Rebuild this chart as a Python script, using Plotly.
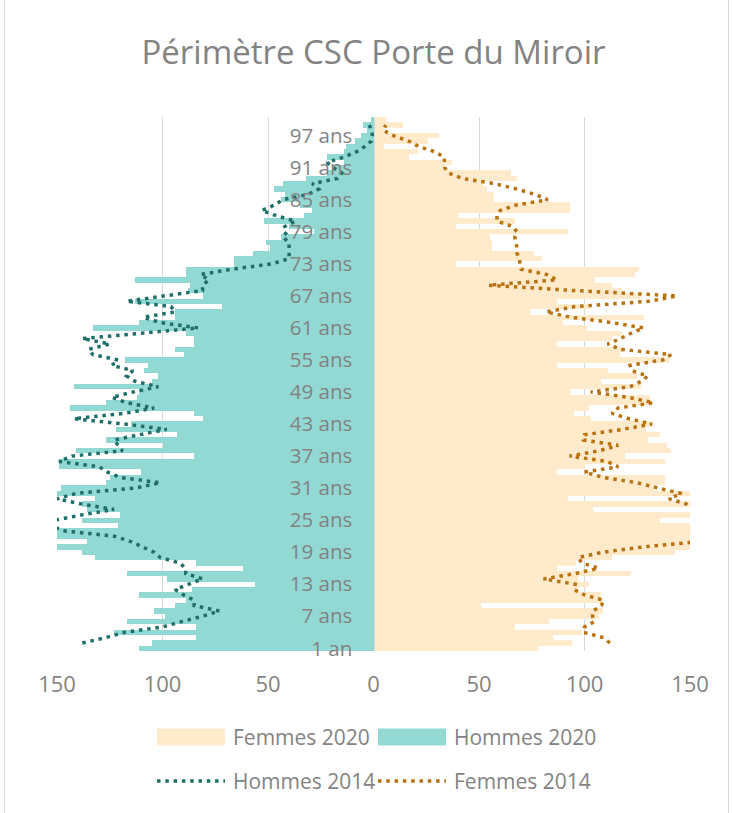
import plotly.graph_objects as go

# ---------------- data ----------------
ages = list(range(1, 101))
hommes_2020 = [111, 105, 84, 123, 84, 117, 99, 104, 94, 89,
               111, 86, 56, 98, 117, 62, 84, 132, 138, 150,
               136, 150, 150, 121, 138, 120, 136, 138, 132, 150,
               148, 127, 125, 110, 149, 149, 85, 141, 100, 127,
               93, 122, 115, 81, 85, 144, 127, 112, 111, 142,
               105, 102, 109, 107, 118, 90, 94, 85, 85, 89,
               133, 111, 94, 94, 72, 113, 81, 88, 87, 113,
               89, 89, 66, 66, 57, 49, 51, 44, 28, 40,
               52, 33, 29, 35, 44, 42, 47, 43, 32, 22,
               19, 14, 22, 14, 13, 9, 6, 3, 5, 1]
femmes_2020 = [78, 94, 85, 99, 67, 83, 107, 109, 51, 109,
               108, 97, 102, 97, 122, 87, 96, 113, 143, 150,
               150, 150, 150, 150, 136, 150, 104, 150, 92, 150,
               133, 138, 138, 87, 100, 138, 119, 141, 139, 130,
               136, 129, 131, 103, 95, 102, 131, 131, 93, 127,
               108, 125, 111, 87, 140, 117, 118, 87, 113, 118,
               101, 90, 128, 74, 103, 87, 127, 118, 113, 105,
               124, 126, 39, 80, 76, 56, 56, 55, 92, 39,
               67, 40, 93, 93, 57, 57, 54, 52, 68, 65,
               34, 37, 17, 21, 5, 26, 31, 5, 14, 6]

ages_2014 = list(range(2, 100))
hommes_2014 = [138, 127, 118, 100, 91, 81, 73, 85, 85,
               90, 94, 88, 81, 89, 89, 92, 101, 104, 110,
               115, 123, 147, 153, 151, 138, 123, 138, 150, 141,
               113, 101, 120, 126, 130, 149, 143, 119, 121, 123,
               111, 98, 118, 142, 118, 104, 117, 124, 114, 102,
               113, 117, 114, 124, 121, 133, 135, 125, 138, 112,
               83, 101, 109, 94, 96, 117, 98, 81, 81, 78,
               82, 67, 48, 40, 40, 40, 40, 43, 41, 42,
               37, 46, 53, 47, 43, 31, 26, 29, 17, 15,
               19, 22, 14, 8, 4, 1, 0.5, 1, 2]
femmes_2014 = [112, 109, 99.5, 100, 104.7, 103.8, 104, 108, 109,
               100, 95, 95.6, 80.6, 95.6, 106.6, 98.7, 97, 108.7, 128,
               155, 160, 163, 162, 160, 158, 155, 148.5, 140, 146,
               135, 125, 109, 100, 116, 110.6, 93, 107, 116, 99.5,
               100, 118, 132, 121, 113, 116, 132.7, 121, 103, 121.6,
               127, 130, 122.4, 121.6, 137, 141, 117, 111, 117, 122,
               128, 113, 93.5, 81.8, 95.6, 131, 143.8, 95, 54.5, 87,
               82, 70, 69.5, 69, 68, 68, 67.5, 67, 68, 66,
               58.5, 58.5, 60, 67.5, 82.6, 76.6, 68, 57.6, 42, 35.5,
               33.8, 33.6, 33.5, 29, 21.3, 16.6, 9.5, 4.7, 5.8]

tick_ages = list(range(1, 101, 6))
tick_labels = ["1 an" if a == 1 else f"{a} ans" for a in tick_ages]
x_ticks = [-150, -100, -50, 0, 50, 100, 150]
x_tick_labels = [str(abs(v)) for v in x_ticks]

# ---------------- style ----------------
C_F20 = "#FFEACB"
C_H20 = "#92D9D4"
C_H14 = "#1F6F69"
C_F14 = "#B8720F"
GRID = "#D9D9D9"
TXT = "#838383"
FONT = "Open Sans"
DOT = "3.5px,4.8px"

W, H = 733, 813
L, R, T, B = 57, 43, 117, 162
PW, PH = W - L - R, H - T - B

fig = go.Figure()
fig.add_trace(go.Bar(y=ages, x=femmes_2020, orientation="h", width=1,
                     marker=dict(color=C_F20, line=dict(width=0)),
                     name="Femmes 2020"))
fig.add_trace(go.Bar(y=ages, x=[-v for v in hommes_2020], orientation="h", width=1,
                     marker=dict(color=C_H20, line=dict(width=0)),
                     name="Hommes 2020"))
fig.add_trace(go.Scatter(y=ages_2014, x=[-v for v in hommes_2014], mode="lines",
                         line=dict(color=C_H14, width=3.5, dash=DOT),
                         name="Hommes 2014"))
fig.add_trace(go.Scatter(y=ages_2014, x=femmes_2014, mode="lines",
                         line=dict(color=C_F14, width=3.5, dash=DOT),
                         name="Femmes 2014"))


def px_x(px):
    return (px - L) / PW


def px_y(py):
    return (H - B - py) / PH


shapes = []
annotations = []
# custom legend (wide swatches like the original)
legend_items = [
    ("rect", C_F20, "Femmes 2020", 157, 737),
    ("rect", C_H20, "Hommes 2020", 378, 737),
    ("line", C_H14, "Hommes 2014", 157, 781),
    ("line", C_F14, "Femmes 2014", 378, 781),
]
for kind, col, label, x0, yc in legend_items:
    if kind == "rect":
        shapes.append(dict(type="rect", xref="paper", yref="paper",
                           x0=px_x(x0), x1=px_x(x0 + 68), y0=px_y(yc + 8.5), y1=px_y(yc - 8.5),
                           fillcolor=col, line=dict(width=0), layer="above"))
    else:
        shapes.append(dict(type="line", xref="paper", yref="paper",
                           x0=px_x(x0), x1=px_x(x0 + 68), y0=px_y(yc), y1=px_y(yc),
                           line=dict(color=col, width=3.5, dash=DOT), layer="above"))
    annotations.append(dict(xref="paper", yref="paper", x=px_x(x0 + 74), y=px_y(yc),
                            xanchor="left", yanchor="middle", showarrow=False,
                            text=label, font=dict(family=FONT, size=21, color=TXT)))

# chart border (top and bottom edges fall outside the visible frame, as in the original)
shapes.append(dict(type="rect", xref="paper", yref="paper",
                   x0=px_x(4.5), x1=px_x(728.5), y0=px_y(830), y1=px_y(-20),
                   line=dict(color="#D9D9D9", width=1), fillcolor="rgba(0,0,0,0)", layer="below"))

fig.update_layout(
    width=W, height=H,
    margin=dict(l=L, r=R, t=T, b=B),
    paper_bgcolor="white", plot_bgcolor="white",
    barmode="overlay", bargap=0,
    showlegend=False,
    font=dict(family=FONT, color=TXT),
    title=dict(text="Périmètre CSC Porte du Miroir", x=0.5, xref="paper",
               y=1 - 52 / H, yanchor="middle",
               font=dict(family=FONT, size=33, color=TXT)),
    xaxis=dict(range=[-150, 150], tickvals=x_ticks, ticktext=x_tick_labels,
               showgrid=True, gridcolor=GRID, gridwidth=1.3, zeroline=False,
               showline=False, ticks="outside", ticklen=14, tickcolor="rgba(0,0,0,0)",
               tickfont=dict(family=FONT, size=22, color=TXT), fixedrange=True),
    yaxis=dict(range=[0.5, 100.5], tickvals=tick_ages, ticktext=tick_labels,
               anchor="free", position=0.5, side="left",
               showgrid=False, zeroline=False, showline=True, linecolor=GRID, linewidth=1.3,
               ticks="outside", ticklen=17, tickcolor="rgba(0,0,0,0)",
               tickfont=dict(family=FONT, size=20.5, color=TXT), fixedrange=True),
    shapes=shapes,
    annotations=annotations,
)

fig.write_html("out.html", config={"displayModeBar": False},
               post_script="document.body.style.margin='0';document.body.style.overflow='hidden';")
